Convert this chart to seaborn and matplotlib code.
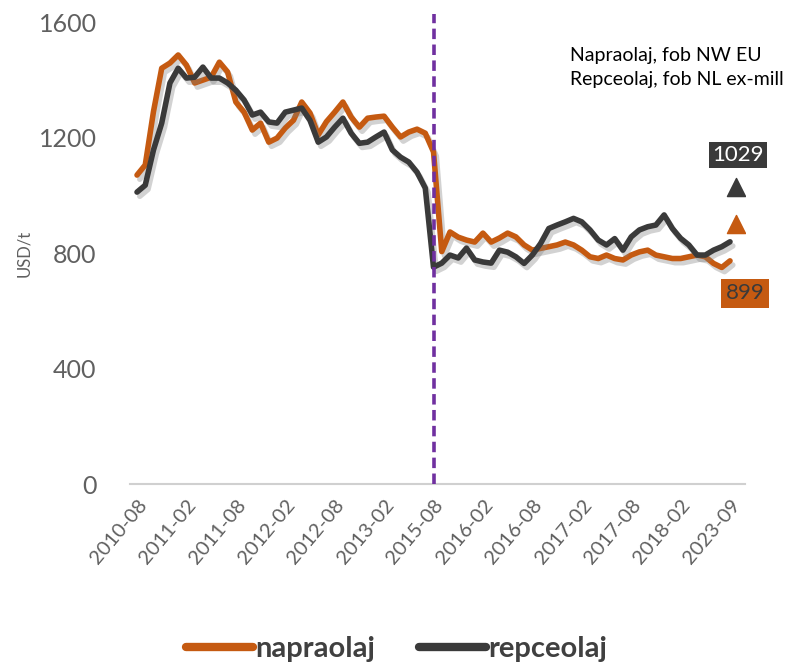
import numpy as np
import pandas as pd
import matplotlib
matplotlib.use('Agg')
import matplotlib.pyplot as plt
import seaborn as sns
from matplotlib import patheffects as pe
from matplotlib.lines import Line2D

# ---- data ----
tick_labels = ['2010-08', '2011-02', '2011-08', '2012-02', '2012-08', '2013-02',
               '2015-08', '2016-02', '2016-08', '2017-02', '2017-08', '2018-02', '2023-09']
napraolaj = [1070, 1105, 1290, 1440, 1458, 1486, 1451, 1389, 1399, 1409,
             1461, 1427, 1323, 1288, 1226, 1250, 1184, 1198, 1233, 1260,
             1323, 1285, 1209, 1255, 1288, 1323, 1271, 1236, 1267, 1271,
             1274, 1236, 1202, 1219, 1229, 1215, 1150, 805, 873, 855,
             845, 838, 869, 838, 852, 869, 856, 828, 810, 816,
             822, 828, 838, 828, 810, 787, 781, 793, 781, 776,
             793, 804, 810, 793, 787, 781, 781, 787, 793, 787,
             764, 750, 773]
repceolaj = [1011, 1035, 1157, 1250, 1389, 1440, 1406, 1409, 1444, 1406,
             1406, 1389, 1364, 1330, 1278, 1288, 1254, 1250, 1288, 1295,
             1302, 1260, 1184, 1202, 1236, 1267, 1215, 1180, 1184, 1202,
             1219, 1157, 1132, 1115, 1080, 1025, 751, 765, 793, 783,
             817, 776, 769, 765, 810, 803, 787, 764, 793, 833,
             885, 897, 908, 920, 908, 880, 845, 828, 850, 810,
             856, 880, 891, 897, 932, 885, 851, 828, 793, 793,
             810, 822, 839]
series_names = ['napraolaj', 'repceolaj']
latest = {'napraolaj': 899, 'repceolaj': 1029}
break_label = '2015-08'
note_lines = ['Napraolaj, fob NW EU', 'Repceolaj, fob NL ex-mill']

# ---- styling ----
sns.set_theme(style='white')
plt.rcParams['font.family'] = ['Lato', 'DejaVu Sans']
colors = {'napraolaj': '#C55A11', 'repceolaj': '#3A3A3A'}
txt_col = '#606060'

n = len(napraolaj)
step = 6
tick_pos = [i * step for i in range(len(tick_labels))]
df = pd.DataFrame({
    'idx': list(range(n)) * 2,
    'value': napraolaj + repceolaj,
    'series': ['napraolaj'] * n + ['repceolaj'] * n,
})

fig = plt.figure(figsize=(8.09, 6.68), dpi=100)
ax = fig.add_axes([0.1607, 0.2754, 0.760, 0.6916])

sns.lineplot(data=df, x='idx', y='value', hue='series', hue_order=series_names,
             palette=colors, linewidth=4, ax=ax, legend=False)
for ln in ax.lines:
    ln.set_solid_capstyle('round')
    ln.set_solid_joinstyle('round')
    ln.set_path_effects([pe.SimpleLineShadow(offset=(2, -3), shadow_color='#808080', alpha=0.35),
                         pe.Normal()])

# vertical dashed break line
bx = tick_pos[tick_labels.index(break_label)]
ax.axvline(bx, ymin=0, ymax=1.017, color='#7030A0', lw=2.6,
           linestyle=(0, (2.9, 1.5)), clip_on=False, zorder=5)

# latest-value triangles and boxes
ax.scatter([72.7], [latest['repceolaj']], marker='^', s=170, color=colors['repceolaj'], zorder=6)
ax.scatter([72.7], [latest['napraolaj']], marker='^', s=170, color=colors['napraolaj'], zorder=6)
ax.text(73.0, 1139, str(latest['repceolaj']), ha='center', va='center', fontsize=16,
        color='white', bbox=dict(boxstyle='square,pad=0.15', fc='#3A3A3A', ec='none'))
ax.text(73.8, 661, str(latest['napraolaj']), ha='center', va='center', fontsize=16,
        color='#3A3A3A', bbox=dict(boxstyle='square,pad=0.2', fc='#C55A11', ec='none'))

ax.set_xlim(-0.85, 73.8)
ax.set_ylim(0, 1600)
ax.set_yticks([0, 400, 800, 1200, 1600])
ax.set_yticklabels(['0', '400', '800', '1200', '1600'], fontsize=18, color=txt_col)
ax.set_xticks(tick_pos)
ax.set_xticklabels(tick_labels, rotation=50, ha='right', rotation_mode='anchor',
                   fontsize=14.5, color=txt_col)
ax.tick_params(axis='y', length=0, pad=24)
ax.tick_params(axis='x', length=0, pad=9)
ax.set_xlabel('')
ax.set_ylabel('USD/t', fontsize=12, color=txt_col)
ax.yaxis.set_label_coords(-0.16, 0.5)

for s in ['top', 'right', 'left']:
    ax.spines[s].set_visible(False)
ax.spines['bottom'].set_color('#D0D0D0')
ax.spines['bottom'].set_linewidth(1.5)
ax.grid(False)

fig.text(570 / 809, 1 - 55 / 668, note_lines[0], fontsize=14, color='black', va='center', ha='left')
fig.text(570 / 809, 1 - 80 / 668, note_lines[1], fontsize=14, color='black', va='center', ha='left')

handles = [Line2D([0], [0], color=colors[s], lw=6, solid_capstyle='round') for s in series_names]
leg = fig.legend(handles, series_names, loc='lower center', bbox_to_anchor=(0.49, -0.03),
                 ncol=2, frameon=False, handlelength=2.3, handletextpad=0.08, columnspacing=1.5,
                 prop={'size': 21, 'weight': 'bold'})
for t in leg.get_texts():
    t.set_color('#404040')

fig.savefig('out.png', dpi=100)
